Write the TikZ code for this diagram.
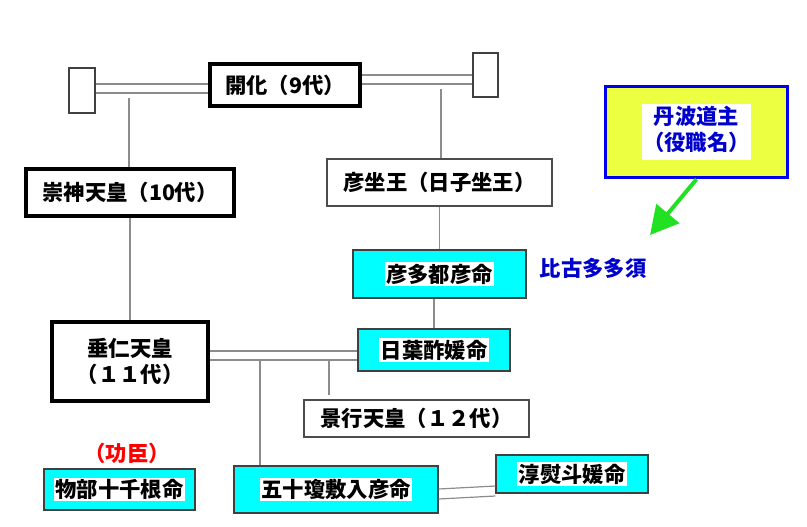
\documentclass[tikz,border=0pt]{standalone}
\usepackage{fontspec}
\setmainfont{Noto Sans CJK JP}
\usetikzlibrary{positioning,arrows.meta}

\definecolor{boxcyan}{HTML}{00FFFF}
\definecolor{tanbayellow}{HTML}{ECFF40}
\definecolor{linegray}{HTML}{8C8C8C}
\definecolor{titleblue}{HTML}{0000F0}
\definecolor{textblue}{HTML}{0000CC}
\definecolor{arrowgreen}{HTML}{22E022}

\newcommand{\hl}[1]{{\setlength{\fboxsep}{1pt}\colorbox{white}{#1}}}

\tikzset{
	jpfont/.style={font=\bfseries\fontsize{16}{19.5}\selectfont},
	emperor/.style={draw=black, line width=3.2pt, fill=white, inner sep=0pt, align=center, jpfont},
	person/.style={draw=black!70, line width=0.9pt, fill=white, inner sep=0pt, jpfont},
	wife/.style={draw=black!75, line width=0.9pt, fill=boxcyan, inner sep=0pt, jpfont},
	endbox/.style={draw=black!75, line width=0.9pt, fill=white, inner sep=0pt},
	link/.style={draw=linegray, line width=0.9pt},
	title/.style={draw=titleblue, line width=2.6pt, fill=tanbayellow, inner sep=0pt, jpfont, text=textblue}
}

\begin{document}
\begin{tikzpicture}[x=0.75pt, y=-0.75pt]
	\useasboundingbox (0,0) rectangle (807,526);

	\node[endbox, minimum width=19.5pt, minimum height=33.75pt] (smallL) at (82,90.5) {};
	\node[endbox, minimum width=18.75pt, minimum height=33pt] (smallR) at (485.5,75) {};
	\node[emperor, minimum width=112.5pt, minimum height=31.5pt] (kaika) at (285,85) {開化（9代）};
	\node[emperor, minimum width=156pt, minimum height=35.25pt] (sujin) at (130,192.5) {崇神天皇（10代）};
	\node[person, minimum width=168.75pt, minimum height=35.25pt] (hikoimasu) at (439.5,182.5) {彦坐王（日子坐王）};
	\node[wife, minimum width=129.75pt, minimum height=36pt] (hikotatsu) at (439.5,274) {\hl{彦多都彦命}};
	\node[jpfont, text=textblue] (hikotext) at (593,268) {比古多多須};
	\node[emperor, minimum width=117pt, minimum height=59.25pt] (suinin) at (130,361.5) {垂仁天皇\\（１１代）};
	\node[wife, minimum width=114pt, minimum height=31.5pt] (hibasu) at (434,350) {\hl{日葉酢媛命}};
	\node[person, minimum width=168.75pt, minimum height=27.75pt] (keiko) at (416.5,418.5) {景行天皇（１２代）};
	\node[jpfont, text=red] (koshin) at (127,453) {（功臣）};
	\node[wife, minimum width=113.25pt, minimum height=30.75pt] (mononobe) at (119.5,489.5) {\hl{物部十千根命}};
	\node[wife, minimum width=153pt, minimum height=35.25pt] (inishiki) at (336,489.5) {\hl{五十瓊敷入彦命}};
	\node[wife, minimum width=114pt, minimum height=28.5pt] (nunoshi) at (572,474) {\hl{淳熨斗媛命}};
	\node[title, minimum width=136.5pt, minimum height=68.25pt] (tanba) at (696.5,132)
		{\hl{\begin{tabular}{@{}c@{}}丹波道主\\（役職名）\end{tabular}}};

	% marriages
	\draw[link] (smallL.east |- 0,84) -- (kaika.west |- 0,84);
	\draw[link] (smallL.east |- 0,93) -- (kaika.west |- 0,93);
	\draw[link] (kaika.east |- 0,75) -- (smallR.west |- 0,75);
	\draw[link] (kaika.east |- 0,84) -- (smallR.west |- 0,84);
	\draw[link] (suinin.east |- 0,351) -- (hibasu.west |- 0,351);
	\draw[link] (suinin.east |- 0,360) -- (hibasu.west |- 0,360);
	\draw[link] (inishiki.east |- 0,489) -- (nunoshi.west |- 0,486);
	\draw[link] (inishiki.east |- 0,499) -- (nunoshi.west |- 0,496);

	% children
	\draw[link] (sujin.north -| 129,0) -- (129,98);
	\draw[link] (hikoimasu.north -| 441,0) -- (441,89);
	\draw[link] (sujin.south) -- (suinin.north);
	\draw[link] (hikoimasu.south) -- (hikotatsu.north);
	\draw[link] (hibasu.north |- hikotatsu.south) -- (hibasu.north);
	\draw[link] (260,360) -- (inishiki.north -| 260,0);
	\draw[link] (329,360) -- (329,395);

	\draw[arrowgreen, line width=3pt, -{Triangle[length=21pt, width=22pt]}] (tanba.south) -- (650,235);
\end{tikzpicture}
\end{document}
